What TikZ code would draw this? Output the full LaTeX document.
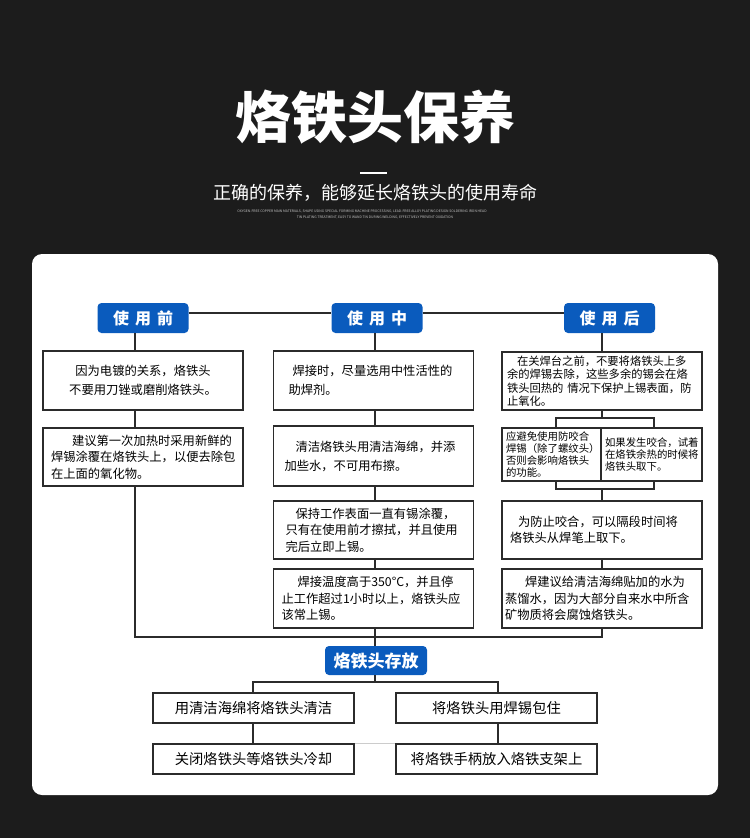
\documentclass[tikz,border=0pt]{standalone}
\usepackage{fontspec}
\setmainfont{Noto Sans CJK SC}
\usetikzlibrary{positioning,calc}
\definecolor{cbg}{HTML}{1C1C1C}
\definecolor{cblue}{HTML}{0A5BBD}
\definecolor{cline}{HTML}{2B2B2B}
\definecolor{cfine}{HTML}{C4C4C4}

\begin{document}
\begin{tikzpicture}[x=1pt,y=-1pt,
  hd/.style={fill=cblue,rounded corners=4pt,text=white,inner sep=0pt,
             font=\bfseries\fontsize{16}{16}\selectfont,minimum width=91pt,minimum height=30pt},
  box/.style={draw=cline,line width=1.3pt,fill=white,align=left,inner xsep=8pt,inner ysep=0pt,
              text width=184pt,minimum height=58pt,font=\fontsize{12.3}{16.5}\selectfont},
  wide/.style={font=\fontsize{12.3}{19}\selectfont},
  tiny/.style={box,inner xsep=4pt,minimum height=53pt,font=\fontsize{10.4}{12}\selectfont},
  low/.style={box,align=center,minimum height=30pt,text width=185pt,font=\fontsize{14.3}{16}\selectfont},
  ln/.style={draw=cline,line width=1.2pt}]
\useasboundingbox (0,0) rectangle (750,838);
\fill[cbg] (0,0) rectangle (750,838);
\fill[white,rounded corners=10pt] (32,254) rectangle (718,795);

% heading
\node[text=white,font=\bfseries\fontsize{56}{56}\selectfont] (title) at (375,117) {烙铁头保养};
\draw[white,line width=1.5pt] (360,173) -- (387,173);
\node[text=white,font=\fontsize{18}{18}\selectfont] (sub) at (375,193) {正确的保养，能够延长烙铁头的使用寿命};
\node[text=cfine,font=\fontsize{3.4}{3.4}\selectfont,inner sep=0pt] (fine1) at (362,211.5)
  {OXYGEN-FREE COPPER MAIN MATERIALS, SHAPE USING SPECIAL FORMING MACHINE PROCESSING, LEAD-FREE ALLOY PLATING DESIGN SOLDERING IRON HEAD};
\node[text=cfine,font=\fontsize{3.4}{3.4}\selectfont,inner sep=0pt] (fine2) at (375,217.5)
  {TIN PLATING TREATMENT, EASY TO WAND TIN DURING WELDING, EFFECTIVELY PREVENT OXIDATION};

% stage headers
\node[hd] (h1) at (143,318) {使\hspace{6pt}用\hspace{6pt}前};
\node[hd] (h2) at (377,318) {使\hspace{6pt}用\hspace{6pt}中};
\node[hd] (h3) at (609.5,318) {使\hspace{6pt}用\hspace{6pt}后};

% before use
\node[box,wide,align=center,minimum height=59pt] (l1) at (143,380.5) {因为电镀的关系，烙铁头\\不要用刀锉或磨削烙铁头。};
\node[box] (l2) at (143,457) {\hspace*{21pt}建议第一次加热时采用新鲜的\\焊锡涂覆在烙铁头上，以便去除包\\在上面的氧化物。};

% during use
\node[box,wide,minimum height=59pt] (m1) at (373.5,380.5) {\hspace*{11pt}焊接时，尽量选用中性活性的\\\hspace*{7pt}助焊剂。};
\node[box,wide,minimum height=60pt] (m2) at (373.5,456) {\hspace*{14pt}清洁烙铁头用清洁海绵，并添\\\hspace*{3pt}加些水，不可用布擦。};
\node[box] (m3) at (373.5,530) {\hspace*{14pt}保持工作表面一直有锡涂覆，\\\hspace*{4pt}只有在使用前才擦拭，并且使用\\\hspace*{4pt}完后立即上锡。};
\node[box,minimum height=59pt] (m4) at (373.5,598.5) {\hspace*{16pt}焊接温度高于350°C，并且停\\止工作超过1小时以上，烙铁头应\\该常上锡。};

% after use
\node[box,inner xsep=5pt,text width=190pt,font=\fontsize{11.3}{13.4}\selectfont] (r1) at (602,381)
  {\hspace*{10pt}在关焊台之前，不要将烙铁头上多\\余的焊锡去除，这些多余的锡会在烙\\铁头回热的 情况下保护上锡表面，防\\止氧化。};
\node[tiny,text width=91pt] (rs1) at (551.5,454.5) {应避免使用防咬合\\焊锡（除了螺纹头）\\否则会影响烙铁头\\的功能。};
\node[tiny,text width=93pt] (rs2) at (651.5,454.5) {如果发生咬合，试着\\在烙铁余热的时候将\\烙铁头取下。};
\node[box] (r3) at (602,530) {\hspace*{8pt}为防止咬合，可以隔段时间将\\烙铁头从焊笔上取下。};
\node[box,inner xsep=3pt,text width=194pt,minimum height=59pt] (r4) at (602,598.5)
  {\hspace*{20pt}焊建议给清洁海绵贴加的水为\\蒸馏水，因为大部分自来水中所含\\矿物质将会腐蚀烙铁头。};

% storage
\node[hd,font=\bfseries\fontsize{17}{17}\selectfont,minimum width=102pt,minimum height=29pt] (st) at (376,660.5) {烙铁头存放};
\node[low] (s1) at (253.5,708) {用清洁海绵将烙铁头清洁};
\node[low] (s2) at (496.5,708) {将烙铁头用焊锡包住};
\node[low] (s3) at (253.5,759) {关闭烙铁头等烙铁头冷却};
\node[low] (s4) at (496.5,759) {将烙铁手柄放入烙铁支架上};

% guide lines
\coordinate (lx) at (135,0); \coordinate (mx) at (375,0); \coordinate (rx) at (602,0);
\coordinate (bl) at (556,0); \coordinate (br) at (654,0);
\coordinate (sl) at (253,0); \coordinate (sr) at (498,0);
\coordinate (ty) at (0,313); \coordinate (by) at (0,637);
\coordinate (ra) at (0,418); \coordinate (rb) at (0,489); \coordinate (sy) at (0,682);

\draw[ln] (h1.east |- ty) -- (h2.west |- ty);
\draw[ln] (h2.east |- ty) -- (h3.west |- ty);
\draw[ln] (h1.south -| lx) -- (l1.north -| lx);
\draw[ln] (l1.south -| lx) -- (l2.north -| lx);
\draw[ln] (h2.south -| mx) -- (m1.north -| mx);
\draw[ln] (m1.south -| mx) -- (m2.north -| mx);
\draw[ln] (m2.south -| mx) -- (m3.north -| mx);
\draw[ln] (m3.south -| mx) -- (m4.north -| mx);
\draw[ln] (h3.south -| rx) -- (r1.north -| rx);
\draw[ln] (r1.south -| rx) -- (rx |- ra);
\draw[ln] (rs1.north -| bl) |- (rx |- ra) -| (rs2.north -| br);
\draw[ln] (rs1.south -| bl) |- (rx |- rb) -| (rs2.south -| br);
\draw[ln] (rx |- rb) -- (r3.north -| rx);
\draw[ln] (r3.south -| rx) -- (r4.north -| rx);
\draw[ln] (l2.south -| lx) -- (lx |- by) -- (rx |- by) -- (r4.south -| rx);
\draw[ln] (m4.south -| mx) -- (st.north -| mx);
\draw[ln] (st.south -| mx) -- (mx |- sy);
\draw[ln] (s1.north -| sl) -- (sl |- sy) -- (sr |- sy) -- (s2.north -| sr);
\draw[ln] (s1.south -| sl) -- (s3.north -| sl);
\draw[ln] (s2.south -| sr) -- (s4.north -| sr);
\draw[gray!40,line width=0.8pt] (s3.north east) -- (s4.north west);
\end{tikzpicture}
\end{document}
